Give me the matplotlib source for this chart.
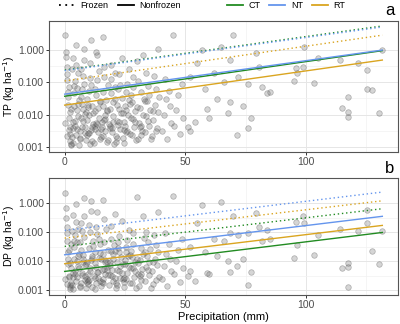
import matplotlib
matplotlib.use("Agg")
import matplotlib.pyplot as plt
from matplotlib.lines import Line2D
import numpy as np

plt.rcParams['font.family'] = ['Liberation Sans', 'DejaVu Sans']

# ---------------- data ----------------
precip = [
    0.3,0.5,0.8,1.0,1.2,1.5,1.8,2.0,2.3,2.6,3.0,0.6,1.4,2.1,2.8,0.2,1.1,1.7,2.5,
    3.2,3.5,3.8,4.0,4.3,4.6,4.9,5.2,5.5,5.8,3.3,3.9,4.4,5.0,5.6,3.6,4.7,5.3,
    6.1,6.4,6.7,7.0,7.3,7.6,7.9,8.2,8.5,8.8,6.3,6.9,7.4,8.0,8.6,6.6,7.7,8.9,
    9.1,9.4,9.7,10.0,10.3,10.6,10.9,11.2,11.5,11.8,9.3,9.9,10.5,11.0,11.6,9.6,10.8,
    12.1,12.4,12.7,13.0,13.3,13.6,13.9,14.2,14.5,14.8,12.5,13.1,13.7,14.3,14.9,12.9,
    15.1,15.4,15.7,16.0,16.3,16.6,16.9,17.2,17.5,17.8,15.6,16.2,16.8,17.4,15.9,
    18.1,18.4,18.7,19.0,19.3,19.6,19.9,20.2,20.5,20.8,18.6,19.4,20.0,20.7,
    21.1,21.5,21.9,22.3,22.7,23.1,23.5,23.9,21.3,22.0,22.8,23.6,22.4,
    24.2,24.6,25.0,25.4,25.8,26.2,26.6,24.4,25.2,25.9,26.7,25.6,
    27.2,27.6,28.0,28.4,28.8,29.2,29.6,27.4,28.2,29.0,29.8,
    30.3,30.7,31.1,31.5,31.9,32.3,32.7,30.5,31.7,32.5,
    33.3,33.7,34.1,34.5,34.9,35.3,35.7,33.9,35.0,
    36.3,36.8,37.3,37.8,38.3,38.8,39.3,37.0,38.5,
    40.5,41.2,41.9,42.6,43.3,44.0,41.5,43.7,
    45.5,46.3,47.1,47.9,48.7,45.0,49.2,
    51,52,54,57,59,60,65,67.7,68.4,68.4,69.8,71.6,76,76,77.3,79.4,80.7,81.8,84,85,
    95,96,96.5,98.8,99.2,103.3,105,114,115,117.4,117.4,117.4,121.7,125.4,125.5,127.5,130.3,131.7,
    52,55,58,62,63,66,72,74,
    1.6,4.2,7.1,10.2,13.4,16.5,19.5,22.5,25.5,28.5,31.5,34.5,
    2.4,5.7,8.3,11.4,14.6,17.7,20.9,24.0,27.0,30.1,33.1,36.6,
    0.9,3.4,6.2,9.5,12.6,15.8,18.9,21.7,24.8,27.9,31.3,38.0,
]
tp = [
    3.0,0.9,0.3,0.12,0.05,0.02,0.008,0.004,0.0015,0.0011,0.25,0.6,0.035,0.0025,0.015,0.0055,0.18,0.07,0.0012,
    0.002,0.006,0.018,0.045,0.11,0.35,1.4,0.0035,0.009,0.028,0.0013,0.075,0.0045,0.014,0.19,0.55,0.0024,0.065,
    0.0011,0.0032,0.008,0.022,0.06,0.16,0.48,1.1,0.004,0.012,0.0019,0.035,0.0065,0.09,0.0027,0.25,0.015,0.0016,
    0.0024,0.007,0.02,0.055,0.14,0.4,2.0,0.0015,0.004,0.011,0.03,0.0095,0.0012,0.08,0.005,0.017,0.0033,
    0.0013,0.0045,0.013,0.04,0.12,0.7,0.0028,0.008,0.025,0.0018,0.06,0.0055,0.016,0.22,0.0036,0.9,
    0.002,0.006,0.018,0.05,0.15,0.0032,0.01,0.028,0.0014,0.08,0.004,0.3,0.0075,0.013,2.5,
    0.0016,0.005,0.015,0.045,0.13,0.0028,0.009,0.024,0.0012,0.07,0.0038,0.35,0.006,0.19,
    0.0022,0.0065,0.02,0.06,0.18,0.0035,0.011,0.032,0.0014,0.0048,0.085,0.55,0.015,
    0.0019,0.006,0.018,0.05,0.0031,0.01,0.028,0.0013,0.0045,0.09,0.25,0.014,
    0.0025,0.008,0.024,0.07,0.0042,0.013,0.0016,0.04,0.15,0.006,0.45,
    0.0018,0.0055,0.016,0.05,0.0032,0.0095,0.03,0.11,0.0024,0.7,
    0.0028,0.009,0.026,0.075,0.0045,0.014,0.0017,0.2,0.04,
    0.0022,0.007,0.02,0.06,0.0038,0.012,0.035,0.16,1.1,
    0.003,0.01,0.03,0.0017,0.055,0.0055,0.13,0.018,
    0.0045,0.014,0.04,0.0025,0.09,3.0,0.008,
    0.004,0.003,0.006,1.0,0.015,0.008,1.27,0.011,0.025,0.49,3.0,0.0023,0.088,0.0037,0.0076,0.79,0.30,0.072,0.045,0.051,
    0.11,0.27,0.2,0.3,1.27,0.092,0.58,0.51,0.0165,0.034,0.0082,0.012,0.39,0.24,0.06,0.057,0.0113,1.0,
    0.15,0.4,0.06,0.2,0.03,0.1,0.15,0.018,
    0.0034,0.0062,0.0041,0.0027,0.0052,0.0068,0.0039,0.0058,0.0029,0.0072,0.0043,0.0061,
    0.012,0.021,0.0105,0.018,0.026,0.0135,0.031,0.0115,0.022,0.017,0.027,0.0125,
    0.0021,0.0038,0.0017,0.0026,0.0035,0.0021,0.0044,0.0019,0.0033,0.0023,0.0040,0.0030,
]
dp = [
    2.2,0.7,0.15,0.05,0.02,0.008,0.003,0.0015,0.0011,0.04,0.11,0.3,0.012,0.0013,0.006,0.0025,0.09,0.025,0.0018,
    0.0015,0.004,0.012,0.03,0.08,0.22,0.9,0.0028,0.007,0.018,0.0011,0.05,0.0035,0.01,0.13,0.4,0.002,0.045,
    0.006,0.0014,0.025,0.004,0.11,0.012,0.35,1.5,0.0022,0.008,0.045,0.0018,0.016,0.07,0.003,0.2,0.0095,0.0012,
    0.0019,0.009,0.0035,0.028,0.1,0.006,1.2,0.0013,0.015,0.05,0.0024,0.18,0.0045,0.011,0.034,0.0016,0.55,
    0.003,0.0011,0.02,0.0065,0.085,0.5,0.0042,0.013,0.0021,0.038,0.0085,0.15,0.0027,0.06,0.012,0.0017,
    0.0014,0.005,0.0024,0.017,0.045,0.009,0.0036,0.13,0.0065,0.025,0.0019,0.28,0.011,0.0048,1.3,
    0.0032,0.0015,0.009,0.022,0.06,0.0048,0.0021,0.012,0.035,0.0027,0.0075,0.16,0.017,0.42,
    0.0018,0.005,0.0095,0.028,0.075,0.0026,0.014,0.0038,0.0012,0.045,0.007,0.25,0.02,
    0.0024,0.0013,0.008,0.03,0.004,0.015,0.0065,0.0019,0.011,0.055,0.12,0.021,
    0.0017,0.006,0.014,0.04,0.0028,0.009,0.0012,0.022,0.09,0.0045,1.6,
    0.0035,0.0014,0.011,0.028,0.0055,0.018,0.065,0.0085,0.0022,0.35,
    0.0021,0.0065,0.015,0.045,0.0034,0.026,0.0012,0.1,0.0095,
    0.0045,0.0016,0.012,0.035,0.0075,0.02,0.0028,0.08,0.5,
    0.0025,0.007,0.018,0.0014,0.04,0.0045,0.09,0.012,
    0.0035,0.01,0.025,0.0019,0.06,1.8,0.006,
    0.003,0.0045,0.002,0.87,0.004,0.0035,1.13,0.01,0.092,0.0042,0.35,0.007,0.0015,0.09,0.0042,0.45,0.15,0.05,0.12,0.06,
    0.0127,0.22,0.037,0.345,0.21,0.0165,0.081,0.13,0.006,0.0086,0.0065,0.0013,0.11,0.59,0.21,0.0225,0.0079,0.105,
    0.03,0.2,0.02,0.06,0.015,0.05,0.08,0.012,
    0.0028,0.0047,0.0033,0.0022,0.0041,0.0055,0.0031,0.0046,0.0024,0.0058,0.0036,0.0050,
    0.0085,0.015,0.0072,0.013,0.019,0.0095,0.023,0.0082,0.016,0.012,0.020,0.0090,
    0.0016,0.0029,0.0013,0.0020,0.0027,0.0017,0.0034,0.0015,0.0026,0.0018,0.0031,0.0023,
]

tillage = ['CT', 'NT', 'RT']
tillage_colors = {'CT': '#228B22', 'NT': '#6495ED', 'RT': '#DAA520'}
fit_x = [0, 131.7]
# fitted values at start / end of the precipitation range
tp_frozen = {'CT': [0.24, 5.6], 'NT': [0.23, 5.2], 'RT': [0.11, 2.9]}
tp_nonfrozen = {'CT': [0.037, 0.96], 'NT': [0.043, 1.0], 'RT': [0.0196, 0.49]}
dp_frozen = {'CT': [0.032, 0.64], 'NT': [0.114, 2.4], 'RT': [0.062, 1.2]}
dp_nonfrozen = {'CT': [0.0044, 0.097], 'NT': [0.0165, 0.35], 'RT': [0.0081, 0.17]}

yticks = [0.001, 0.01, 0.1, 1.0]
ytick_labels = ['0.001', '0.010', '0.100', '1.000']
xticks = [0, 50, 100]

# ---------------- figure ----------------
fig = plt.figure(figsize=(4.0, 3.24), dpi=100)
ax_a = fig.add_axes([0.1225, 0.531, 0.8725, 0.404])
ax_b = fig.add_axes([0.1225, 0.0895, 0.8725, 0.3615])

def style(ax, ylim, ylabel):
    ax.set_yscale('log')
    ax.set_xlim(-6.5, 138.2)
    ax.set_ylim(*ylim)
    ax.set_yticks(yticks)
    ax.set_yticklabels(ytick_labels)
    ax.set_xticks(xticks)
    ax.set_xticks([25, 75, 125], minor=True)
    ax.set_yticks([10**-2.5, 10**-1.5, 10**-0.5], minor=True)
    ax.yaxis.set_minor_formatter(matplotlib.ticker.NullFormatter())
    ax.grid(True, which='major', color='#e6e6e6', lw=0.7, zorder=0)
    ax.grid(True, which='minor', color='#f2f2f2', lw=0.5, zorder=0)
    ax.set_axisbelow(True)
    ax.tick_params(which='major', length=2.5, width=0.7, color='#333333',
                   labelsize=7.5, labelcolor='#4d4d4d', pad=1.2)
    ax.tick_params(which='minor', length=0)
    for s in ax.spines.values():
        s.set_color('#555555')
        s.set_linewidth(0.8)
    ax.set_ylabel(ylabel, fontsize=7.5, labelpad=0.5)

def draw(ax, y, frozen, nonfrozen):
    ax.scatter(precip, y, s=16, facecolor=(0.4, 0.4, 0.4, 0.27),
               edgecolor=(0.3, 0.3, 0.3, 0.4), linewidths=0.5, zorder=2)
    for t in tillage:
        ax.plot(fit_x, frozen[t], color=tillage_colors[t], lw=1.0,
                ls=(0, (1, 2)), zorder=3)
    for t in tillage:
        ax.plot(fit_x, nonfrozen[t], color=tillage_colors[t], lw=1.0, zorder=3)

draw(ax_a, tp, tp_frozen, tp_nonfrozen)
draw(ax_b, dp, dp_frozen, dp_nonfrozen)
style(ax_a, (10**-3.16, 10**0.9), r'TP (kg ha$^{-1}$)')
style(ax_b, (10**-3.17, 10**0.87), r'DP (kg ha$^{-1}$)')
ax_b.set_xlabel('Precipitation (mm)', fontsize=8, labelpad=1)

ax_a.text(0.99, 1.02, 'a', transform=ax_a.transAxes, ha='right', va='bottom', fontsize=12)
ax_b.text(0.99, 1.02, 'b', transform=ax_b.transAxes, ha='right', va='bottom', fontsize=12)

# legends
h1 = [Line2D([], [], color='black', lw=1.3, ls=(0, (1, 2.5))),
      Line2D([], [], color='black', lw=1.3)]
fig.legend(h1, ['Frozen', 'Nonfrozen'], loc='center', bbox_to_anchor=(0.30, 0.982),
           ncol=2, frameon=False, fontsize=6.5, handlelength=1.8, columnspacing=1.0,
           handletextpad=0.6, borderpad=0)
h2 = [Line2D([], [], color=tillage_colors[t], lw=1.3) for t in tillage]
fig.legend(h2, tillage, loc='center', bbox_to_anchor=(0.715, 0.982),
           ncol=3, frameon=False, fontsize=6.5, handlelength=1.8, columnspacing=1.0,
           handletextpad=0.6, borderpad=0)

fig.savefig('out.png', dpi=100)
